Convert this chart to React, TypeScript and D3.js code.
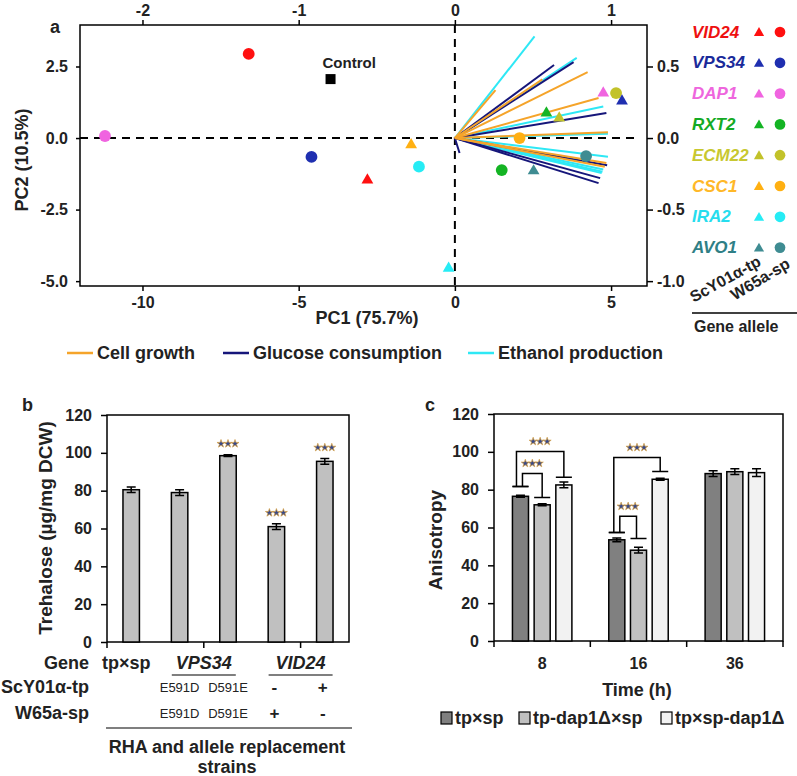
import * as d3 from "d3";
import { useEffect, useRef } from "react";

// ---- panel a: PCA biplot ----
const genes = ["VID24", "VPS34", "DAP1", "RXT2", "ECM22", "CSC1", "IRA2", "AVO1"];
const geneColors = ["#ff1010", "#1f2fb0", "#f064e0", "#14b424", "#c2c22a", "#ffb012", "#26ecf5", "#3f8c92"];
const geneTextColors = ["#ee1111", "#1a2a9a", "#ee66dd", "#14aa24", "#c8c830", "#ffb828", "#26ddee", "#2f7f86"];
// ScY01a-tp allele (triangles) and W65a-sp allele (circles): [PC1, PC2]
const tpScores = [[-2.8, -1.47], [5.35, 1.29], [4.75, 1.57], [2.93, 0.87], [3.34, 0.7], [-1.4, -0.24], [-0.2, -4.55], [2.52, -1.15]];
const spScores = [[-6.6, 2.94], [-4.59, -0.66], [-11.2, 0.07], [1.5, -1.12], [5.16, 1.57], [2.07, 0.0], [-1.15, -1.0], [4.2, -0.63]];
const controlScore = [-3.98, 2.06];

// loading vectors [load1, load2]
const growthLoadings = [[0.26, 0.335], [0.56, 0.41], [0.85, 0.46], [0.92, 0.28], [0.98, 0.04], [0.97, -0.175], [0.96, -0.2]];
const glucoseLoadings = [[0.635, 0.51], [0.76, 0.53], [0.97, 0.175], [0.975, -0.19], [0.93, -0.28], [0.92, -0.315], [0.03, -0.105]];
const ethanolLoadings = [[0.51, 0.71], [0.78, 0.56], [0.95, 0.22], [0.98, 0.03], [0.98, -0.13], [0.95, -0.22], [0.945, -0.235], [0.94, -0.245]];
const loadingNames = ["Cell growth", "Glucose consumption", "Ethanol production"];
const loadingColors = ["#f5a42a", "#16167a", "#2ee8f5"];

const pc1Ticks = [-10, -5, 0, 5];
const pc2Ticks = [-5, -2.5, 0, 2.5];
const load1Ticks = [-2, -1, 0, 1];
const load2Ticks = [-1, -0.5, 0, 0.5];

// ---- panel b: trehalose ----
const strains = ["tpxsp", "VPS34-E591D", "VPS34-D591E", "VID24-sp", "VID24-tp"];
const trehalose = [80.5, 79, 98.5, 61, 95.5];
const trehaloseErr = [1.5, 1.5, 0.5, 1.5, 1.5];
const trehaloseSig = [false, false, true, true, true];
const scRow = ["", "E591D", "D591E", "-", "+"];
const wRow = ["", "E591D", "D591E", "+", "-"];
const bTicks = [0, 20, 40, 60, 80, 100, 120];

// ---- panel c: anisotropy ----
const times = ["8", "16", "36"];
const cSeries = ["tp×sp", "tp-dap1Δ×sp", "tp×sp-dap1Δ"];
const cColors = ["#808080", "#c0c0c0", "#f2f2f2"];
const anisoWT = [76.5, 53.5, 88.5];
const anisoTpDap = [72, 48, 89.5];
const anisoSpDap = [82.5, 85.5, 89];
const errWT = [0.5, 1, 1.5];
const errTpDap = [0.5, 1.5, 1.5];
const errSpDap = [1.5, 0.5, 2];
// significance brackets: time, from series, to series, top, cap at from, cap at to
const bracketTimes = ["8", "8", "16", "16"];
const bracketFrom = [0, 0, 0, 0];
const bracketTo = [2, 1, 2, 1];
const bracketTop = [100.2, 88.6, 97, 65.9];
const bracketCapFrom = [81.7, 81.7, 57.4, 57.4];
const bracketCapTo = [86.5, 75.9, 89.6, 54.2];

const FONT = "'Liberation Sans', Arial, sans-serif";
const INK = "#222";

const App = () => {
  const ref = useRef(null);

  useEffect(() => {
    const svg = d3.select(ref.current);
    svg.selectAll("*").remove();

    const styleAxis = (g, size) => {
      g.select(".domain").remove();
      g.selectAll("line").attr("stroke", "#000").attr("stroke-width", 1.5);
      g.selectAll("text")
        .attr("font-family", FONT)
        .attr("font-size", size)
        .attr("font-weight", "bold")
        .attr("fill", INK);
    };
    const label = (g, x, y, txt, opts = {}) =>
      g
        .append("text")
        .attr("x", x)
        .attr("y", y)
        .attr("font-family", FONT)
        .attr("font-size", opts.size || 18)
        .attr("font-weight", opts.weight || "bold")
        .attr("font-style", opts.italic ? "italic" : "normal")
        .attr("fill", opts.fill || INK)
        .attr("text-anchor", opts.anchor || "start")
        .attr("dominant-baseline", "central")
        .attr("transform", opts.rotate ? `rotate(${opts.rotate},${x},${y})` : null)
        .text(txt);
    const drawStars = (g, cx, cy) => {
      [-7, 0, 7].forEach((dx) => {
        g.append("path")
          .attr("d", d3.symbol(d3.symbolStar, 20)())
          .attr("transform", `translate(${cx + dx},${cy})`)
          .attr("fill", "#3a4a88")
          .attr("stroke", "#d9a040")
          .attr("stroke-width", 0.7);
      });
    };

    // ===================== panel a =====================
    const a = svg.append("g");
    const x = d3.scaleLinear().domain([-12.0, 6.15]).range([80, 647]);
    const y = d3.scaleLinear().domain([3.95, -5.17]).range([25, 286]);
    const xl = d3.scaleLinear().domain([-12.0 / 5, 6.15 / 5]).range([80, 647]);
    const yl = d3.scaleLinear().domain([3.95 / 5, -5.17 / 5]).range([25, 286]);

    a.append("g")
      .attr("transform", "translate(0,286)")
      .call(d3.axisBottom(x).tickValues(pc1Ticks).tickSize(5).tickPadding(6).tickFormat((d) => String(d)))
      .call((g) => styleAxis(g, 16));
    a.append("g")
      .attr("transform", "translate(0,25)")
      .call(d3.axisTop(xl).tickValues(load1Ticks).tickSize(5).tickPadding(4).tickFormat((d) => String(d)))
      .call((g) => styleAxis(g, 16));
    a.append("g")
      .attr("transform", "translate(80,0)")
      .call(d3.axisLeft(y).tickValues(pc2Ticks).tickSize(4).tickPadding(8).tickFormat((d) => d.toFixed(1)))
      .call((g) => styleAxis(g, 16));
    a.append("g")
      .attr("transform", "translate(647,0)")
      .call(d3.axisRight(yl).tickValues(load2Ticks).tickSize(6).tickPadding(4).tickFormat((d) => d.toFixed(1)))
      .call((g) => styleAxis(g, 16));

    a.append("rect")
      .attr("x", 80)
      .attr("y", 25)
      .attr("width", 567)
      .attr("height", 261)
      .attr("fill", "none")
      .attr("stroke", "#000")
      .attr("stroke-width", 1.5);

    // dashed zero lines
    a.append("line")
      .attr("x1", 80)
      .attr("x2", 640)
      .attr("y1", y(0))
      .attr("y2", y(0))
      .attr("stroke", "#000")
      .attr("stroke-width", 2)
      .attr("stroke-dasharray", "8,6");
    a.append("line")
      .attr("x1", x(0))
      .attr("x2", x(0))
      .attr("y1", 25)
      .attr("y2", 286)
      .attr("stroke", "#000")
      .attr("stroke-width", 2)
      .attr("stroke-dasharray", "8,6");

    // loading vectors
    [ethanolLoadings, glucoseLoadings, growthLoadings].forEach((set, k) => {
      const col = [loadingColors[2], loadingColors[1], loadingColors[0]][k];
      a.append("g")
        .selectAll("line")
        .data(set)
        .join("line")
        .attr("x1", xl(0))
        .attr("y1", yl(0))
        .attr("x2", (d) => xl(d[0]))
        .attr("y2", (d) => yl(d[1]))
        .attr("stroke", col)
        .attr("stroke-width", 2);
    });

    // scores
    const tri = d3.symbol(d3.symbolTriangle, 60)();
    const circ = d3.symbol(d3.symbolCircle, 110)();
    a.append("g")
      .selectAll("path")
      .data(spScores)
      .join("path")
      .attr("d", circ)
      .attr("transform", (d) => `translate(${x(d[0])},${y(d[1])})`)
      .attr("fill", (d, i) => geneColors[i]);
    a.append("g")
      .selectAll("path")
      .data(tpScores)
      .join("path")
      .attr("d", tri)
      .attr("transform", (d) => `translate(${x(d[0])},${y(d[1])})`)
      .attr("fill", (d, i) => geneColors[i]);
    a.append("rect")
      .attr("x", x(controlScore[0]) - 5)
      .attr("y", y(controlScore[1]) - 5)
      .attr("width", 10)
      .attr("height", 10)
      .attr("fill", "#000");
    label(a, x(controlScore[0]) - 8, y(controlScore[1]) - 17, "Control", { size: 15 });

    // axis titles
    label(a, 367, 318, "PC1 (75.7%)", { anchor: "middle" });
    label(a, 22, 160, "PC2 (10.5%)", { anchor: "middle", rotate: -90 });
    label(a, 50, 27, "a", { size: 18 });

    // loadings legend
    const legX = [67, 223, 468];
    loadingNames.forEach((n, i) => {
      a.append("line")
        .attr("x1", legX[i])
        .attr("x2", legX[i] + 26)
        .attr("y1", 353)
        .attr("y2", 353)
        .attr("stroke", loadingColors[i])
        .attr("stroke-width", 2.5);
      label(a, legX[i] + 30, 353, n);
    });

    // gene legend
    const gl = svg.append("g");
    genes.forEach((gName, i) => {
      const gy = 32 + i * 30.8;
      label(gl, 692, gy, gName, { size: 17, italic: true, fill: geneTextColors[i] });
      gl.append("path")
        .attr("d", d3.symbol(d3.symbolTriangle, 45)())
        .attr("transform", `translate(759,${gy + 1})`)
        .attr("fill", geneColors[i]);
      gl.append("path")
        .attr("d", d3.symbol(d3.symbolCircle, 90)())
        .attr("transform", `translate(780,${gy})`)
        .attr("fill", geneColors[i]);
    });
    label(gl, 691, 298, "ScY01α-tp", { size: 16, rotate: -29 });
    label(gl, 732, 296, "W65a-sp", { size: 16, rotate: -31 });
    gl.append("line").attr("x1", 692).attr("x2", 797).attr("y1", 313).attr("y2", 313).attr("stroke", "#000").attr("stroke-width", 1.5);
    label(gl, 694, 326, "Gene allele", { size: 16 });

    // ===================== panel b =====================
    const b = svg.append("g");
    const xb = d3.scaleBand().domain(strains).range([107, 349]).paddingInner(0.66).paddingOuter(0.33);
    const yb = d3.scaleLinear().domain([0, 120]).range([642, 415]);
    b.append("g")
      .attr("transform", "translate(107,0)")
      .call(d3.axisLeft(yb).tickValues(bTicks).tickSize(6).tickPadding(9))
      .call((g) => styleAxis(g, 16));
    b.append("rect").attr("x", 107).attr("y", 415).attr("width", 242).attr("height", 227).attr("fill", "none").attr("stroke", "#000").attr("stroke-width", 1.5);
    const stepB = xb.step();
    [0, 2, 4].forEach((k) => {
      const tx = 107 + k * stepB;
      b.append("line").attr("x1", tx).attr("x2", tx).attr("y1", 642).attr("y2", 648).attr("stroke", "#000").attr("stroke-width", 1.5);
    });
    b.append("g")
      .selectAll("rect")
      .data(trehalose)
      .join("rect")
      .attr("x", (d, i) => xb(strains[i]))
      .attr("y", (d) => yb(d))
      .attr("width", xb.bandwidth())
      .attr("height", (d) => 642 - yb(d))
      .attr("fill", "#c0c0c0")
      .attr("stroke", "#000")
      .attr("stroke-width", 1.5);
    trehalose.forEach((v, i) => {
      const cx = xb(strains[i]) + xb.bandwidth() / 2;
      const e = trehaloseErr[i];
      b.append("path")
        .attr("d", `M${cx},${yb(v - e)}V${yb(v + e)}M${cx - 4.5},${yb(v - e)}H${cx + 4.5}M${cx - 4.5},${yb(v + e)}H${cx + 4.5}`)
        .attr("stroke", "#000")
        .attr("stroke-width", 1.5)
        .attr("fill", "none");
      if (trehaloseSig[i]) drawStars(b, cx, yb(v + e) - 11);
    });
    label(b, 45, 528, "Trehalose (µg/mg DCW)", { size: 19, anchor: "middle", rotate: -90 });
    label(b, 22, 405, "b", { size: 18 });

    // table under panel b
    const cxOf = (i) => xb(strains[i]) + xb.bandwidth() / 2;
    label(b, 89, 663, "Gene", { anchor: "end" });
    label(b, 89, 687, "ScY01α-tp", { anchor: "end" });
    label(b, 89, 713, "W65a-sp", { anchor: "end" });
    label(b, 102, 663, "tp×sp");
    const vpsMid = (cxOf(1) + cxOf(2)) / 2;
    const vidMid = (cxOf(3) + cxOf(4)) / 2;
    label(b, vpsMid, 663, "VPS34", { anchor: "middle", italic: true });
    label(b, vidMid, 663, "VID24", { anchor: "middle", italic: true });
    b.append("line").attr("x1", vpsMid - 32).attr("x2", vpsMid + 32).attr("y1", 675).attr("y2", 675).attr("stroke", "#000").attr("stroke-width", 1.2);
    b.append("line").attr("x1", vidMid - 32).attr("x2", vidMid + 32).attr("y1", 675).attr("y2", 675).attr("stroke", "#000").attr("stroke-width", 1.2);
    [scRow, wRow].forEach((row, r) => {
      row.forEach((t, i) => {
        if (!t) return;
        const big = t === "+" || t === "-";
        label(b, cxOf(i) - (big ? 2 : 0), r === 0 ? 687 : 713, t, { anchor: "middle", size: big ? 17 : 13, weight: big ? "bold" : "normal" });
      });
    });
    b.append("line").attr("x1", 106).attr("x2", 352).attr("y1", 728).attr("y2", 728).attr("stroke", "#000").attr("stroke-width", 1.2);
    label(b, 227, 747, "RHA  and allele replacement", { anchor: "middle" });
    label(b, 227, 767, "strains", { anchor: "middle" });

    // ===================== panel c =====================
    const c = svg.append("g");
    const x0 = d3.scaleBand().domain(times).range([494, 783]);
    const x1 = d3.scaleBand().domain(cSeries).range([0, x0.bandwidth()]).paddingInner(0.26).paddingOuter(0.85);
    const yc = d3.scaleLinear().domain([0, 120]).range([641, 414]);
    c.append("g")
      .attr("transform", "translate(494,0)")
      .call(d3.axisLeft(yc).tickValues(bTicks).tickSize(6).tickPadding(9))
      .call((g) => styleAxis(g, 16));
    c.append("rect").attr("x", 494).attr("y", 414).attr("width", 289).attr("height", 227).attr("fill", "none").attr("stroke", "#000").attr("stroke-width", 1.5);
    [...times, "end"].forEach((t, k) => {
      const tx = 494 + k * x0.step();
      c.append("line").attr("x1", tx).attr("x2", tx).attr("y1", 641).attr("y2", 647).attr("stroke", "#000").attr("stroke-width", 1.5);
    });
    times.forEach((t) => label(c, x0(t) + x0.bandwidth() / 2, 663, t, { anchor: "middle", size: 16 }));

    const cVals = [anisoWT, anisoTpDap, anisoSpDap];
    const cErrs = [errWT, errTpDap, errSpDap];
    const barCx = (ti, si) => x0(times[ti]) + x1(cSeries[si]) + x1.bandwidth() / 2;
    cSeries.forEach((s, si) => {
      c.append("g")
        .selectAll("rect")
        .data(cVals[si])
        .join("rect")
        .attr("x", (d, ti) => x0(times[ti]) + x1(s))
        .attr("y", (d) => yc(d))
        .attr("width", x1.bandwidth())
        .attr("height", (d) => 641 - yc(d))
        .attr("fill", cColors[si])
        .attr("stroke", "#000")
        .attr("stroke-width", 1.5);
      cVals[si].forEach((v, ti) => {
        const cx = barCx(ti, si);
        const e = cErrs[si][ti];
        c.append("path")
          .attr("d", `M${cx},${yc(v - e)}V${yc(v + e)}M${cx - 4.5},${yc(v - e)}H${cx + 4.5}M${cx - 4.5},${yc(v + e)}H${cx + 4.5}`)
          .attr("stroke", "#000")
          .attr("stroke-width", 1.5)
          .attr("fill", "none");
      });
    });
    // significance brackets
    const legOffFrom = [-4, 2, -3, 3];
    const legOffTo = [0, 0, 0, -2];
    bracketTimes.forEach((t, k) => {
      const ti = times.indexOf(t);
      const fx = barCx(ti, bracketFrom[k]);
      const tx = barCx(ti, bracketTo[k]);
      const lx1 = fx + legOffFrom[k];
      const lx2 = tx + legOffTo[k];
      const hw = x1.bandwidth() / 2;
      c.append("path")
        .attr(
          "d",
          `M${lx1},${yc(bracketCapFrom[k])}V${yc(bracketTop[k])}H${lx2}V${yc(bracketCapTo[k])}` +
            `M${fx - hw},${yc(bracketCapFrom[k])}H${fx + hw}M${tx - hw},${yc(bracketCapTo[k])}H${tx + hw}`
        )
        .attr("fill", "none")
        .attr("stroke", "#000")
        .attr("stroke-width", 1.5);
      drawStars(c, (lx1 + lx2) / 2, yc(bracketTop[k]) - 10);
    });
    label(c, 435, 540, "Anisotropy", { size: 19, anchor: "middle", rotate: -90 });
    label(c, 637, 690, "Time (h)", { anchor: "middle" });
    label(c, 425, 405, "c", { size: 18 });
    const cLegX = [441, 519, 661];
    cSeries.forEach((s, si) => {
      c.append("rect").attr("x", cLegX[si]).attr("y", 712).attr("width", 11).attr("height", 12).attr("fill", cColors[si]).attr("stroke", "#000").attr("stroke-width", 1.2);
      label(c, cLegX[si] + 14, 718, s);
    });
  }, []);

  return <svg ref={ref} width={797} height={776} style={{ position: "absolute", left: 0, top: 0, background: "#fff" }} />;
};

export default App;
